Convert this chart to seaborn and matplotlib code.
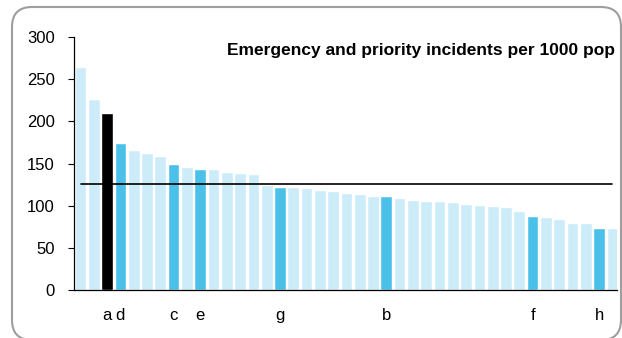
import matplotlib
matplotlib.use("Agg")
import matplotlib.pyplot as plt
from matplotlib.patches import FancyBboxPatch
from matplotlib.transforms import IdentityTransform
import seaborn as sns
import pandas as pd

# values per area, sorted high to low
values = [265, 226, 210, 174, 166, 162, 159, 149, 146, 144,
          143, 140, 139, 138, 124, 122, 122, 121, 119, 117,
          115, 114, 112, 111, 109, 107, 106, 105, 104, 102,
          101, 100, 99, 94, 88, 86, 84, 80, 79, 74, 73]
labels = ["", "", "a", "d", "", "", "", "c", "", "e",
          "", "", "", "", "", "g", "", "", "", "",
          "", "", "", "b", "", "", "", "", "", "",
          "", "", "", "", "f", "", "", "", "", "h", ""]
groups = ["other", "other", "own", "peer", "other", "other", "other", "peer", "other", "peer",
          "other", "other", "other", "other", "other", "peer", "other", "other", "other", "other",
          "other", "other", "other", "peer", "other", "other", "other", "other", "other", "other",
          "other", "other", "other", "other", "peer", "other", "other", "other", "other", "peer", "other"]
average = 125.5
title = "Emergency and priority incidents per 1000 pop"

colours = {"other": "#cdecf9", "peer": "#4bc1ea", "own": "#000000"}

df = pd.DataFrame({"pos": range(len(values)), "value": values, "group": groups})

sns.set_style("white")
plt.rcParams["font.family"] = ["Liberation Sans", "DejaVu Sans"]
plt.rcParams["text.color"] = "black"
plt.rcParams["xtick.color"] = "black"
plt.rcParams["ytick.color"] = "black"

fig = plt.figure(figsize=(6.22, 3.38), dpi=100)
ax = fig.add_axes([0.119, 0.142, 0.873, 0.7485])

sns.barplot(data=df, x="pos", y="value", hue="group", palette=colours,
            dodge=False, width=0.88, legend=False, saturation=1, ax=ax)

# average line across the bars
ax.plot([0, len(values) - 1], [average, average], color="black", lw=1.2)

ax.set_xlim(-0.49, 40.35)
ax.set_ylim(0, 300)
ax.set_yticks(range(0, 301, 50))
ax.set_xticks(range(len(values)))
ax.set_xticklabels(labels, fontsize=12)
ax.tick_params(axis="x", length=0, pad=13, labelcolor="black")
ax.tick_params(axis="y", length=4, width=0.8, color="black", labelcolor="black",
               labelsize=12, pad=10, direction="out", left=True)
ax.set_xlabel("")
ax.set_ylabel("")
for s in ["top", "right"]:
    ax.spines[s].set_visible(False)
for s in ["left", "bottom"]:
    ax.spines[s].set_color("black")
    ax.spines[s].set_linewidth(0.9)

ax.text(0.997, 0.945, title, transform=ax.transAxes, ha="right", va="center",
        fontsize=12.5, fontweight="bold", color="black")

# rounded frame round the whole chart (pixel units)
frame = FancyBboxPatch((12, -2), 609, 333, transform=IdentityTransform(),
                       boxstyle="round,pad=0,rounding_size=20",
                       fill=False, edgecolor="#9e9e9e", lw=1.5)
fig.patches.append(frame)

fig.savefig("out.png", dpi=100)
